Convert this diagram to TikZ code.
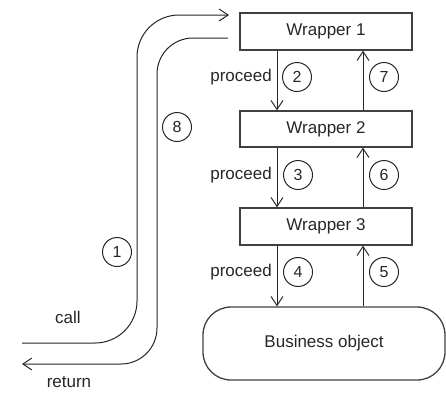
\documentclass[tikz,border=0pt]{standalone}
\usepackage{fontspec}
\setmainfont{Liberation Sans}
\usetikzlibrary{arrows.meta}

\begin{document}
\begin{tikzpicture}[
  x=1pt, y=-1pt,
  every node/.style={font=\fontsize{17}{20}\selectfont, text=black!85},
  wrapbox/.style={draw=black!75, line width=1.3pt, minimum width=172pt,
                  inner sep=0pt},
  bizbox/.style={draw=black!75, line width=1.3pt, rounded corners=28pt,
                 minimum width=242pt, minimum height=73pt, inner sep=0pt},
  num/.style={draw=black!85, line width=1pt, circle, minimum size=29pt,
              inner sep=0pt, font=\fontsize{16}{18}\selectfont},
  flow/.style={draw=black!85, line width=1pt,
               -{Straight Barb[length=9pt, width=12pt, line width=1pt]}},
  lbl/.style={anchor=east, inner sep=0pt}
]
\useasboundingbox (0,0) rectangle (446,392);

% wrapper chain and target object
\node[wrapbox, minimum height=37pt] (w1) at (326,31.5) {Wrapper 1};
\node[wrapbox, minimum height=36pt] (w2) at (326,129)  {Wrapper 2};
\node[wrapbox, minimum height=37pt] (w3) at (326,226.5) {Wrapper 3};
\node[bizbox] (bo) at (324,343.5) {Business object};

% columns for the downward (proceed) and upward (return) connectors
\coordinate (dn) at (277,0);
\coordinate (up) at (363,0);

\draw[flow] (w1.south -| dn) -- (w2.north -| dn);
\draw[flow] (w2.south -| dn) -- (w3.north -| dn);
\draw[flow] (w3.south -| dn) -- (bo.north -| dn);

\draw[flow] (bo.north -| up) -- (w3.south -| up);
\draw[flow] (w3.north -| up) -- (w2.south -| up);
\draw[flow] (w2.north -| up) -- (w1.south -| up);

% proceed labels
\node[lbl] (p1) at (272,77)  {proceed};
\node[lbl] (p2) at (272,175) {proceed};
\node[lbl] (p3) at (272,272) {proceed};

% step numbers
\node[num] (n1) at (117,252) {1};
\node[num] (n2) at (297,77)  {2};
\node[num] (n3) at (298,175) {3};
\node[num] (n4) at (298,272) {4};
\node[num] (n5) at (384,272) {5};
\node[num] (n6) at (384,175) {6};
\node[num] (n7) at (384,77)  {7};
\node[num] (n8) at (177,127) {8};

% incoming call and outgoing return
\coordinate (callstart) at (22,343);
\coordinate (callend) at (229,15);
\coordinate (retstart) at (228,38);
\coordinate (retend) at (22,364);

\draw[flow, rounded corners=42pt]
  (callstart) -- (137,343) -- (137,15) -- (callend);
\draw[flow, rounded corners=36pt]
  (retstart) -- (157,38) -- (157,364) -- (retend);

\node (call) at (68,317) {call};
\node (ret) at (69,382) {return};
\end{tikzpicture}
\end{document}
